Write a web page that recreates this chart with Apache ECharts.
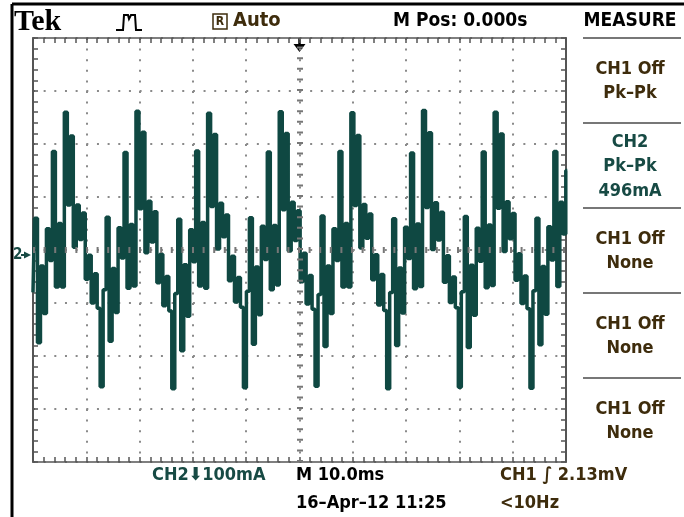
<!DOCTYPE html>
<html>
<head>
<meta charset="utf-8">
<title>Tek CH2 Pk-Pk</title>
<script src="https://cdn.jsdelivr.net/npm/echarts@6/dist/echarts.min.js"></script>
<style>
html, body { margin: 0; padding: 0; background: #fff; }
#scope { width: 684px; height: 517px; }
</style>
</head>
<body>
<div id="scope"></div>
<script>
// CH2 trace in mA, one sample every 0.56 ms (100 mA/div, 10 ms/div)
var sampleStep = 0.56;
var ch2Trace = [
	-80, 60, -175, -30, -120, 40, -20, 186, -70, 50, -70,
	260, 85, 215, 5, 85, 20, 70, -55, -10, -100, -45, -110, -258, -75, 62, -172, -35, -118, 42, -15, 184, -72, 48, -68,
	262, 78, 222, -5, 92, 15, 72, -62, -8, -105, -50, -115, -262, -82, 58, -190, -28, -125, 38, -22, 187, -68, 52, -72,
	258, 82, 218, 2, 88, 25, 66, -58, -12, -98, -52, -108, -260, -78, 61, -178, -32, -122, 45, -18, 185, -75, 46, -66,
	261, 76, 220, -2, 90, 18, 74, -60, -6, -102, -48, -112, -257, -84, 64, -182, -30, -120, 40, -20, 186, -70, 50, -70,
	259, 84, 216, 4, 86, 22, 68, -56, -9, -104, -46, -114, -262, -80, 59, -180, -34, -119, 43, -16, 183, -73, 49, -69,
	263, 80, 221, 1, 89, 19, 71, -61, -11, -99, -51, -109, -259, -79, 63, -184, -29, -123, 41, -21, 185, -71, 47, -67,
	260, 79, 219, -3, 91, 21, 69, -57, -7, -101, -49, -111, -261, -77, 60, -179, -31, -121, 44, -19, 186, -69, 90, 30, 150
];

// graticule: 10 x 10 ms, 8 x 100 mA
var timeRange = [0, 100];
var currentRange = [-400, 400];

// measure menu on the right
var measureTitles = ['CH1 Off', 'CH2', 'CH1 Off', 'CH1 Off', 'CH1 Off'];
var measureValues = [['Pk–Pk'], ['Pk–Pk', '496mA'], ['None'], ['None'], ['None']];
var measureChannels = ['ch1', 'ch2', 'ch1', 'ch1', 'ch1'];

var colors = {
	trace: '#0f4842',
	ch1: '#3e2c0c',
	ch2: '#174a44',
	grid: '#8a8a8a',
	edge: '#555'
};
var FONT = "'DejaVu Sans Condensed', 'Liberation Sans Narrow', sans-serif";

function txt(s, x, y, color, size, align) {
	return {
		type: 'text', x: x, y: y, silent: true,
		style: {
			text: s, fill: color,
			font: 'bold ' + size + 'px ' + FONT,
			textAlign: align || 'left', textVerticalAlign: 'middle'
		}
	};
}
function seg(x1, y1, x2, y2, color, w) {
	return { type: 'line', silent: true, shape: { x1: x1, y1: y1, x2: x2, y2: y2 }, style: { stroke: color, lineWidth: w } };
}

var graphics = [];
// outer frame
graphics.push(seg(12, 4, 684, 4, '#000', 3));
graphics.push(seg(12, 4, 12, 517, '#000', 3));
// header
graphics.push({ type: 'text', x: 14, y: 22, silent: true, style: { text: 'Tek', fill: '#000', font: "bold 30px 'Liberation Serif', serif", textVerticalAlign: 'middle' } });
graphics.push({ type: 'polyline', silent: true, shape: { points: [[116, 30], [123, 30], [124, 15], [128, 15], [129, 19], [131, 15], [135, 15], [136, 30], [142, 30]] }, style: { stroke: '#000', lineWidth: 2, fill: null } });
graphics.push({ type: 'rect', silent: true, shape: { x: 213, y: 14, width: 14, height: 15 }, style: { stroke: colors.ch1, lineWidth: 1.5, fill: null } });
graphics.push(txt('R', 220, 22, colors.ch1, 12, 'center'));
graphics.push(txt('Auto', 233, 21, colors.ch1, 20));
graphics.push(txt('M Pos: 0.000s', 393, 21, '#000', 19));
graphics.push(txt('MEASURE', 630, 21, '#000', 19, 'center'));

// measure boxes
var boxTop = 38, boxH = 85;
graphics.push(seg(583, boxTop, 681, boxTop, '#777', 2));
for (var i = 0; i < measureTitles.length; i++) {
	var lines = [measureTitles[i]].concat(measureValues[i]);
	var col = measureChannels[i] === 'ch2' ? colors.ch2 : colors.ch1;
	var mid = boxTop + boxH * i + boxH / 2 + 1;
	for (var j = 0; j < lines.length; j++) {
		graphics.push(txt(lines[j], 630, mid + (j - (lines.length - 1) / 2) * 24.5, col, 18, 'center'));
	}
	if (i > 0) graphics.push(seg(583, boxTop + boxH * i, 681, boxTop + boxH * i, '#777', 2));
}

// footer
graphics.push(txt('CH2⬇100mA', 152, 475, colors.ch2, 18));
graphics.push(txt('M 10.0ms', 296, 475, '#000', 18));
graphics.push(txt('CH1 ∫ 2.13mV', 500, 475, colors.ch1, 18));
graphics.push(txt('16–Apr–12 11:25', 296, 503, '#000', 18));
graphics.push(txt('<10Hz', 500, 503, colors.ch1, 18));

// ground marker and trigger position arrow
graphics.push(txt('2', 13, 255, colors.ch2, 15));
graphics.push({ type: 'polygon', silent: true, shape: { points: [[24, 251.5], [31, 255], [24, 258.5]] }, style: { fill: colors.ch2 } });
graphics.push(seg(21, 255, 25, 255, colors.ch2, 2));
graphics.push(seg(299.5, 38, 299.5, 45, '#000', 2.5));
graphics.push({ type: 'polygon', silent: true, shape: { points: [[293.5, 44], [305.5, 44], [299.5, 52]] }, style: { fill: '#000' } });

function edgeAxis(pos, isX) {
	var ax = {
		type: 'value', position: pos,
		min: isX ? timeRange[0] : currentRange[0],
		max: isX ? timeRange[1] : currentRange[1],
		interval: isX ? 10 : 100,
		axisLine: { show: true, onZero: false, lineStyle: { color: colors.edge, width: isX ? 1.5 : 2 } },
		axisTick: { show: true, inside: true, length: 5, lineStyle: { color: colors.edge, width: 1.5 } },
		minorTick: { show: true, splitNumber: 5, length: 5, lineStyle: { color: colors.edge, width: 1.5 } },
		axisLabel: { show: false },
		splitLine: { show: false }
	};
	if (pos === 'bottom' || pos === 'left') {
		ax.splitLine = { show: true, lineStyle: { color: colors.grid, width: 2, type: isX ? [2, 8.6] : [2, 8.66] } };
	}
	return ax;
}

var myChart = echarts.init(document.getElementById('scope'));
var option = {
	animation: false,
	backgroundColor: '#fff',
	grid: { left: 33, right: 118, top: 38, bottom: 55 },
	xAxis: [edgeAxis('bottom', true), edgeAxis('top', true)],
	yAxis: [edgeAxis('left', false), edgeAxis('right', false)],
	graphic: { elements: graphics },
	series: [{
		// centre lines with their small cross ticks
		type: 'line', data: [], z: 1, silent: true,
		markLine: {
			silent: true, symbol: ['none', 'none'], label: { show: false },
			lineStyle: { color: '#777', width: 6, type: [2, 8.6] },
			data: [{ xAxis: 50 }, { yAxis: 0 }]
		}
	}, {
		name: 'CH2',
		type: 'line', step: 'middle', z: 3,
		showSymbol: false,
		data: ch2Trace.map(function(v, i) { return [i * sampleStep, v]; }),
		lineStyle: { color: colors.trace, width: 3.5 }
	}]
};
myChart.setOption(option);
</script>
</body>
</html>
